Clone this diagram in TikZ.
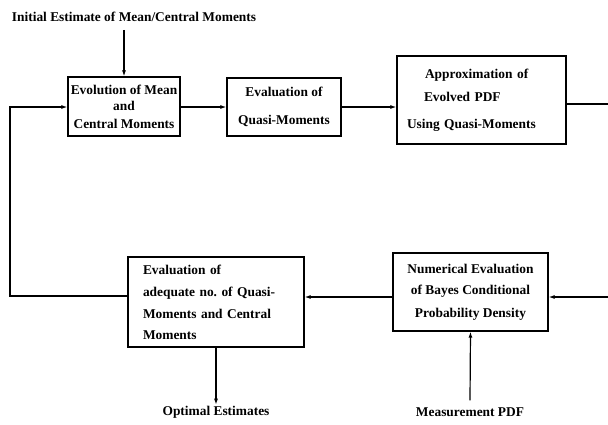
\documentclass[tikz,border=0pt]{standalone}
\usepackage{fontspec}
\setmainfont{Liberation Serif}
\usetikzlibrary{arrows.meta}
\begin{document}
\begin{tikzpicture}[x=1pt,y=-1pt,
  box/.style={draw,line width=1.2pt,minimum width=#1,inner sep=0pt,font=\bfseries\fontsize{13.4}{16}\selectfont},
  lbl/.style={font=\bfseries\fontsize{13.4}{16}\selectfont,inner sep=1pt},
  conn/.style={line width=1.2pt},
  arr/.style={conn,-{Latex[length=6pt,width=4pt]}}]
\useasboundingbox (0,0) rectangle (608,424);
\node[lbl] (init) at (134,17) {Initial Estimate of Mean/Central Moments};
\node[box=112pt,minimum height=59pt,align=center] (b1) at (124,106.5)
  {Evolution of Mean\\[0.5pt]and\\[1.5pt]Central Moments};
\node[box=114pt,minimum height=58pt,align=center] (b2) at (284,107)
  {Evaluation of\\[12pt]Quasi-Moments};
\node[box=169pt,minimum height=88pt,text width=149pt,inner xsep=10pt,align=left] (b3) at (481.5,100)
  {\hspace{18pt}Approximation of\\[7pt]\hspace{17pt}Evolved PDF\\[11pt]Using Quasi-Moments};
\node[box=176pt,minimum height=90pt,text width=146pt,inner xsep=15pt,align=left] (b4) at (216,302)
  {Evaluation of\\[6pt]adequate no.\ of Quasi-\\[6pt]Moments and Central\\[5pt]Moments};
\node[box=155pt,minimum height=78pt,align=center] (b5) at (470.5,292)
  {Numerical Evaluation\\[5pt]of Bayes Conditional\\[7pt]Probability Density};
\node[lbl] (opt) at (216,412) {Optimal Estimates};
\node[lbl] (meas) at (470,412) {Measurement PDF};
\coordinate (lt) at (10,107);
\coordinate (lb) at (10,296);
\coordinate (rt) at (620,104);
\coordinate (rb) at (620,297);
\draw[arr] (init.south -| b1.north) ++(0,7) -- (b1.north);
\draw[arr] (b1.east |- lt) -- (b2.west |- lt);
\draw[arr] (b2.east |- lt) -- (b3.west |- lt);
\draw[conn] (b3.east |- rt) -- (rt) -- (rb);
\draw[arr] (rb) -- (b5.east |- rb);
\draw[arr] (b5.west |- rb) -- (b4.east |- rb);
\draw[arr] (b4.west |- lb) -- (lb) -- (lt) -- (b1.west |- lt);
\draw[arr] (b4.south) -- (opt.north);
\draw[arr] (meas.north) ++(0,-6) -- (b5.south);
\end{tikzpicture}
\end{document}
